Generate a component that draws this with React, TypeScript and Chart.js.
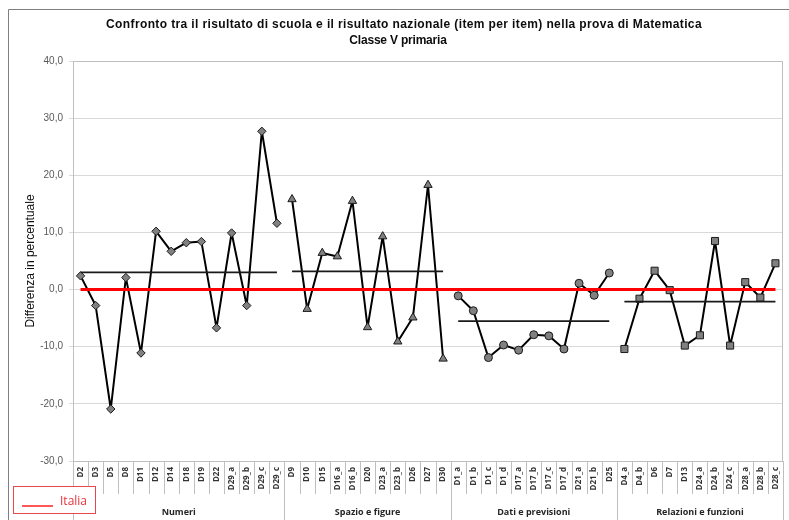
import React, { useEffect, useRef } from "react";
import { Chart, registerables } from "chart.js";

Chart.register(...registerables);

// ---- data ----
const numeriLabels = ["D2", "D3", "D5", "D8", "D11", "D12", "D14", "D18", "D19", "D22", "D29_a", "D29_b", "D29_c", "D29_c"];
const numeriValues = [2.4, -2.8, -20.9, 2.1, -11.1, 10.2, 6.7, 8.2, 8.4, -6.7, 9.9, -2.8, 27.7, 11.6];

const spazioLabels = ["D9", "D10", "D15", "D16_a", "D16_b", "D20", "D23_a", "D23_b", "D26", "D27", "D30"];
const spazioValues = [15.8, -3.4, 6.4, 5.8, 15.5, -6.6, 9.3, -9.1, -4.9, 18.3, -12.1];

const datiLabels = ["D1_a", "D1_b", "D1_c", "D1_d", "D17_a", "D17_b", "D17_c", "D17_d", "D21_a", "D21_b", "D25"];
const datiValues = [-1.1, -3.7, -11.9, -9.7, -10.6, -7.9, -8.1, -10.4, 1.1, -1.0, 2.9];

const relazioniLabels = ["D4_a", "D4_b", "D6", "D7", "D13", "D24_a", "D24_b", "D24_c", "D28_a", "D28_b", "D28_c"];
const relazioniValues = [-10.4, -1.6, 3.3, -0.1, -9.8, -8.0, 8.5, -9.8, 1.3, -1.4, 4.6];

const groupNames = ["Numeri", "Spazio e figure", "Dati e previsioni", "Relazioni e funzioni"];
const groupMeans = [3.0, 3.2, -5.5, -2.1];
const groupPointStyles = ["rectRot", "triangle", "circle", "rect"];
const groupPointRadius = [4.2, 4.8, 4, 5];
const italiaValue = 0;

const yMin = -30;
const yMax = 40;
const yStep = 10;

const titleLines = [
  "Confronto tra il risultato di scuola e il risultato nazionale (item per item) nella prova di Matematica",
  "Classe V primaria",
];
const yTitle = "Differenza in percentuale";
const legendLabel = "Italia";

// ---- derived tables ----
const groupLabels = [numeriLabels, spazioLabels, datiLabels, relazioniLabels];
const groupValues = [numeriValues, spazioValues, datiValues, relazioniValues];
const allLabels: string[] = groupLabels.flat();
const groupStarts: number[] = [];
{
  let acc = 0;
  for (const g of groupLabels) {
    groupStarts.push(acc);
    acc += g.length;
  }
}

function groupData(g: number, vals: (i: number) => number) {
  const start = groupStarts[g];
  const n = groupLabels[g].length;
  return allLabels.map((_, i) => (i >= start && i < start + n ? vals(i - start) : null));
}

const decorPlugin = {
  id: "decor",
  beforeDraw(chart: any) {
    const ctx = chart.ctx;
    ctx.save();
    ctx.fillStyle = "#ffffff";
    ctx.fillRect(0, 0, chart.width, chart.height);
    ctx.strokeStyle = "#7f7f7f";
    ctx.lineWidth = 1;
    ctx.beginPath();
    ctx.moveTo(8.5, chart.height);
    ctx.lineTo(8.5, 9.5);
    ctx.lineTo(chart.width, 9.5);
    ctx.stroke();
    ctx.restore();
  },
  beforeDatasetsDraw(chart: any) {
    const ctx = chart.ctx;
    const { left, top, right, bottom } = chart.chartArea;
    ctx.save();
    ctx.strokeStyle = "#bfbfbf";
    ctx.lineWidth = 1;
    ctx.strokeRect(left + 0.5, top + 0.5, right - left - 1, bottom - top);
    ctx.restore();
  },
  afterDraw(chart: any) {
    const ctx = chart.ctx;
    const xs = chart.scales.x;
    const { bottom } = chart.chartArea;
    ctx.save();

    // title
    ctx.fillStyle = "#0d0d0d";
    ctx.font = 'bold 12px "Liberation Sans", Arial, sans-serif';
    ctx.textAlign = "center";
    ctx.textBaseline = "alphabetic";
    (ctx as any).letterSpacing = "0.38px";
    ctx.fillText(titleLines[0], 404, 28);
    (ctx as any).letterSpacing = "-0.2px";
    ctx.fillText(titleLines[1], 398, 44);
    (ctx as any).letterSpacing = "0px";

    // category axis
    const band = xs.getPixelForValue(1) - xs.getPixelForValue(0);
    const boundaries = new Set<number>([...groupStarts, allLabels.length]);
    ctx.strokeStyle = "#bfbfbf";
    ctx.lineWidth = 1;
    for (let i = 0; i <= allLabels.length; i++) {
      const x = Math.round(xs.getPixelForValue(Math.min(i, allLabels.length - 1)) + (i === allLabels.length ? band / 2 : -band / 2)) + 0.5;
      const yEnd = boundaries.has(i) ? chart.height : bottom + 33;
      ctx.beginPath();
      ctx.moveTo(x, bottom);
      ctx.lineTo(x, yEnd);
      ctx.stroke();
    }

    ctx.fillStyle = "#333333";
    ctx.font = 'bold 8px "Open Sans", sans-serif';
    ctx.textAlign = "right";
    ctx.textBaseline = "middle";
    allLabels.forEach((lab, i) => {
      const cx = xs.getPixelForValue(i);
      ctx.save();
      ctx.translate(cx, bottom + 6);
      ctx.rotate(-Math.PI / 2);
      ctx.fillText(lab, 0, 0);
      ctx.restore();
    });

    ctx.font = 'bold 9px "Open Sans", sans-serif';
    ctx.textAlign = "center";
    ctx.textBaseline = "middle";
    ctx.fillStyle = "#262626";
    groupNames.forEach((name, g) => {
      const a = xs.getPixelForValue(groupStarts[g]) - band / 2;
      const b = xs.getPixelForValue(groupStarts[g] + groupLabels[g].length - 1) + band / 2;
      ctx.fillText(name, (a + b) / 2, 512);
    });

    // legend box
    ctx.fillStyle = "#ffffff";
    ctx.fillRect(13.5, 486.5, 82, 27);
    ctx.strokeStyle = "#e8474c";
    ctx.lineWidth = 1;
    ctx.strokeRect(13.5, 486.5, 82, 27);
    ctx.strokeStyle = "#ff2020";
    ctx.lineWidth = 1.5;
    ctx.beginPath();
    ctx.moveTo(22, 506);
    ctx.lineTo(53, 506);
    ctx.stroke();
    ctx.fillStyle = "#e8303a";
    ctx.font = '12px "Open Sans", sans-serif';
    ctx.textAlign = "left";
    ctx.textBaseline = "alphabetic";
    ctx.fillText(legendLabel, 60, 505);

    ctx.restore();
  },
};

export default function App() {
  const ref = useRef<HTMLCanvasElement | null>(null);

  useEffect(() => {
    document.body.style.margin = "0";
    const canvas = ref.current;
    if (!canvas) return;

    const datasets: any[] = [];
    datasets.push({
      label: legendLabel,
      data: allLabels.map(() => italiaValue),
      borderColor: "#ff0000",
      borderWidth: 3,
      pointRadius: 0,
      fill: false,
    });
    groupNames.forEach((name, g) => {
      datasets.push({
        label: name + " media",
        data: groupData(g, () => groupMeans[g]),
        borderColor: "#1a1a1a",
        borderWidth: 1.75,
        pointRadius: 0,
        spanGaps: false,
        fill: false,
      });
    });
    groupNames.forEach((name, g) => {
      datasets.push({
        label: name,
        data: groupData(g, (k) => groupValues[g][k]),
        borderColor: "#000000",
        borderWidth: 2,
        borderJoinStyle: "round",
        borderCapStyle: "round",
        pointStyle: groupPointStyles[g],
        pointRadius: groupPointRadius[g],
        pointBackgroundColor: "#808080",
        pointBorderColor: "#1a1a1a",
        pointBorderWidth: 1,
        spanGaps: false,
        fill: false,
      });
    });

    const chart = new Chart(canvas, {
      type: "line",
      data: { labels: allLabels, datasets },
      options: {
        responsive: false,
        animation: false,
        layout: { padding: { left: 0, top: 61, right: 5, bottom: 59 } },
        plugins: {
          legend: { display: false },
          tooltip: { enabled: false },
          title: { display: false },
        },
        scales: {
          x: { type: "category", offset: true, display: false },
          y: {
            min: yMin,
            max: yMax,
            afterFit: (s: any) => {
              s.width = 73;
            },
            ticks: {
              stepSize: yStep,
              callback: (v: any) => Number(v).toFixed(1).replace(".", ","),
              font: { family: '"Liberation Sans", Arial, sans-serif', size: 10 },
              color: "#595959",
              padding: 6,
            },
            grid: { color: "#d9d9d9", tickLength: 4, drawTicks: true },
            border: { display: false },
            title: {
              display: true,
              text: yTitle,
              font: { family: '"Liberation Sans", Arial, sans-serif', size: 12 },
              color: "#0d0d0d",
              padding: { top: 23, bottom: 0 },
            },
          },
        },
      },
      plugins: [decorPlugin],
    });
    return () => chart.destroy();
  }, []);

  return <canvas ref={ref} width={789} height={520} style={{ display: "block" }} />;
}
